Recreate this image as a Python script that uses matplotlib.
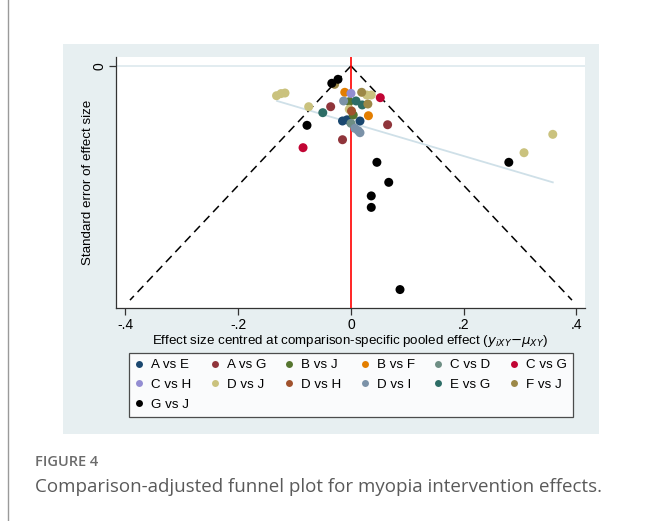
import matplotlib.pyplot as plt
from matplotlib.lines import Line2D
from matplotlib.patches import Rectangle

# comparisons and Stata s2color-style palette
comparisons = ["A vs E", "A vs G", "B vs J", "B vs F", "C vs D", "C vs G",
               "C vs H", "D vs J", "D vs H", "D vs I", "E vs G", "F vs J",
               "G vs J"]
colors = ["#1a476f", "#90353b", "#55752f", "#e37e00", "#6e8e84", "#c10534",
          "#938dd2", "#cac27e", "#a0522d", "#7b92a8", "#2d6d66", "#9c8847",
          "#000000"]

# centred effect sizes (x) and standard errors (y)
effects = {
    "A vs E": [-0.015, -0.007, 0.016],
    "A vs G": [-0.036, 0.065, -0.015],
    "B vs J": [-0.003, 0.004],
    "B vs F": [-0.011, 0.031],
    "C vs D": [0.000],
    "C vs G": [0.052, -0.085],
    "C vs H": [0.000],
    "D vs J": [-0.132, -0.124, -0.117, -0.075, 0.028, 0.036, -0.003, 0.307, 0.358],
    "D vs H": [0.001],
    "D vs I": [-0.013, 0.007, 0.013, 0.016],
    "E vs G": [0.009, 0.020, -0.050],
    "F vs J": [0.019, 0.030, -0.029],
    "G vs J": [-0.023, -0.034, -0.078, 0.280, 0.046, 0.067, 0.036, 0.036, 0.087],
}
std_errs = {
    "A vs E": [0.047, 0.046, 0.047],
    "A vs G": [0.0348, 0.0502, 0.0630],
    "B vs J": [0.0305, 0.0419],
    "B vs F": [0.0225, 0.0425],
    "C vs D": [0.049],
    "C vs G": [0.0271, 0.0698],
    "C vs H": [0.0234],
    "D vs J": [0.0254, 0.0236, 0.0231, 0.0348, 0.0248, 0.0248, 0.037, 0.0741, 0.0584],
    "D vs H": [0.0385],
    "D vs I": [0.0299, 0.0533, 0.0553, 0.057],
    "E vs G": [0.0299, 0.0333, 0.0399],
    "F vs J": [0.0225, 0.0325, 0.0157],
    "G vs J": [0.0114, 0.0148, 0.0507, 0.0823, 0.0823, 0.0994, 0.111, 0.1208, 0.191],
}
# fitted small-study line endpoints
fit_x = [-0.131, 0.358]
fit_y = [0.0299, 0.0994]
se_max = 0.2

W, H = 646, 521
fig = plt.figure(figsize=(W / 100, H / 100), dpi=100)
plt.rcParams["font.family"] = ["Liberation Sans", "DejaVu Sans"]

# outer border line and Stata graph region
fig.add_artist(Line2D([8 / W, 8 / W], [0, 1], color="#9a9a9a", lw=1))
fig.add_artist(Rectangle((63 / W, 1 - 434 / H), 536 / W, 390 / H,
                         facecolor="#e7eff1", edgecolor="none", zorder=0))

ax = fig.add_axes([116 / W, 1 - 308.3 / H, (584.8 - 116) / W, (308.3 - 57.3) / H])
ax.set_facecolor("white")
ax.set_xlim(-0.4168, 0.4148)
ax.set_ylim(0.207, -0.0074)

ax.axhline(0, color="#dde9ee", lw=1.2, zorder=1)
ax.plot([0, -1.96 * se_max], [0, se_max], color="black", ls=(0, (5.5, 3.5)), lw=1.1, zorder=2)
ax.plot([0, 1.96 * se_max], [0, se_max], color="black", ls=(0, (5.5, 3.5)), lw=1.1, zorder=2)
ax.plot(fit_x, fit_y, color="#cfe0e8", lw=1.3, zorder=2)
ax.axvline(0, color="#ff0000", lw=1.2, zorder=3)

for name, col in zip(comparisons, colors):
    ax.scatter(effects[name], std_errs[name], s=42, color=col, edgecolors="none",
               zorder=4, label=name)

for s in ["top", "right"]:
    ax.spines[s].set_visible(False)
for s in ["left", "bottom"]:
    ax.spines[s].set_color("#333333")
    ax.spines[s].set_linewidth(0.9)

ax.set_xticks([-0.4, -0.2, 0, 0.2, 0.4])
ax.set_xticklabels(["-.4", "-.2", "0", ".2", ".4"], fontsize=10)
ax.set_yticks([0])
ax.set_yticklabels(["0"], fontsize=10, rotation=90, va="center")
ax.tick_params(direction="out", length=5, width=0.9, color="#333333", pad=2)

ax.set_xlabel(r"Effect size centred at comparison-specific pooled effect ($y_{iXY}$$-$$\mu_{XY}$)",
              fontsize=9.6, labelpad=1)
ax.set_ylabel("Standard error of effect size", fontsize=9.6, labelpad=-1)

# legend in row-major order (matplotlib fills columns first)
handles = {name: Line2D([], [], ls="none", marker="o", ms=5, color=col, mec="none")
           for name, col in zip(comparisons, colors)}
order = [0, 6, 12, 1, 7, 2, 8, 3, 9, 4, 10, 5, 11]
leg = fig.legend([handles[comparisons[i]] for i in order],
                 [comparisons[i] for i in order],
                 ncol=6, loc="upper left", bbox_to_anchor=(129 / W, 1 - 353 / H),
                 frameon=True, fancybox=False, edgecolor="#222222", fontsize=9.6,
                 handlelength=0.6, handletextpad=0.6, columnspacing=1.45,
                 labelspacing=0.55, borderpad=0.45, borderaxespad=0)
leg.get_frame().set_linewidth(0.9)

fig.text(35 / W, 1 - 462 / H, "FIGURE 4", fontsize=10.5, color="#6b6b6b",
         family=["Open Sans", "DejaVu Sans"], weight="semibold", va="center")
fig.text(35 / W, 1 - 487 / H, "Comparison-adjusted funnel plot for myopia intervention effects.",
         fontsize=13.5, color="#5a5a5a", family=["Open Sans", "DejaVu Sans"], va="center")

fig.savefig("out.png", dpi=100)
